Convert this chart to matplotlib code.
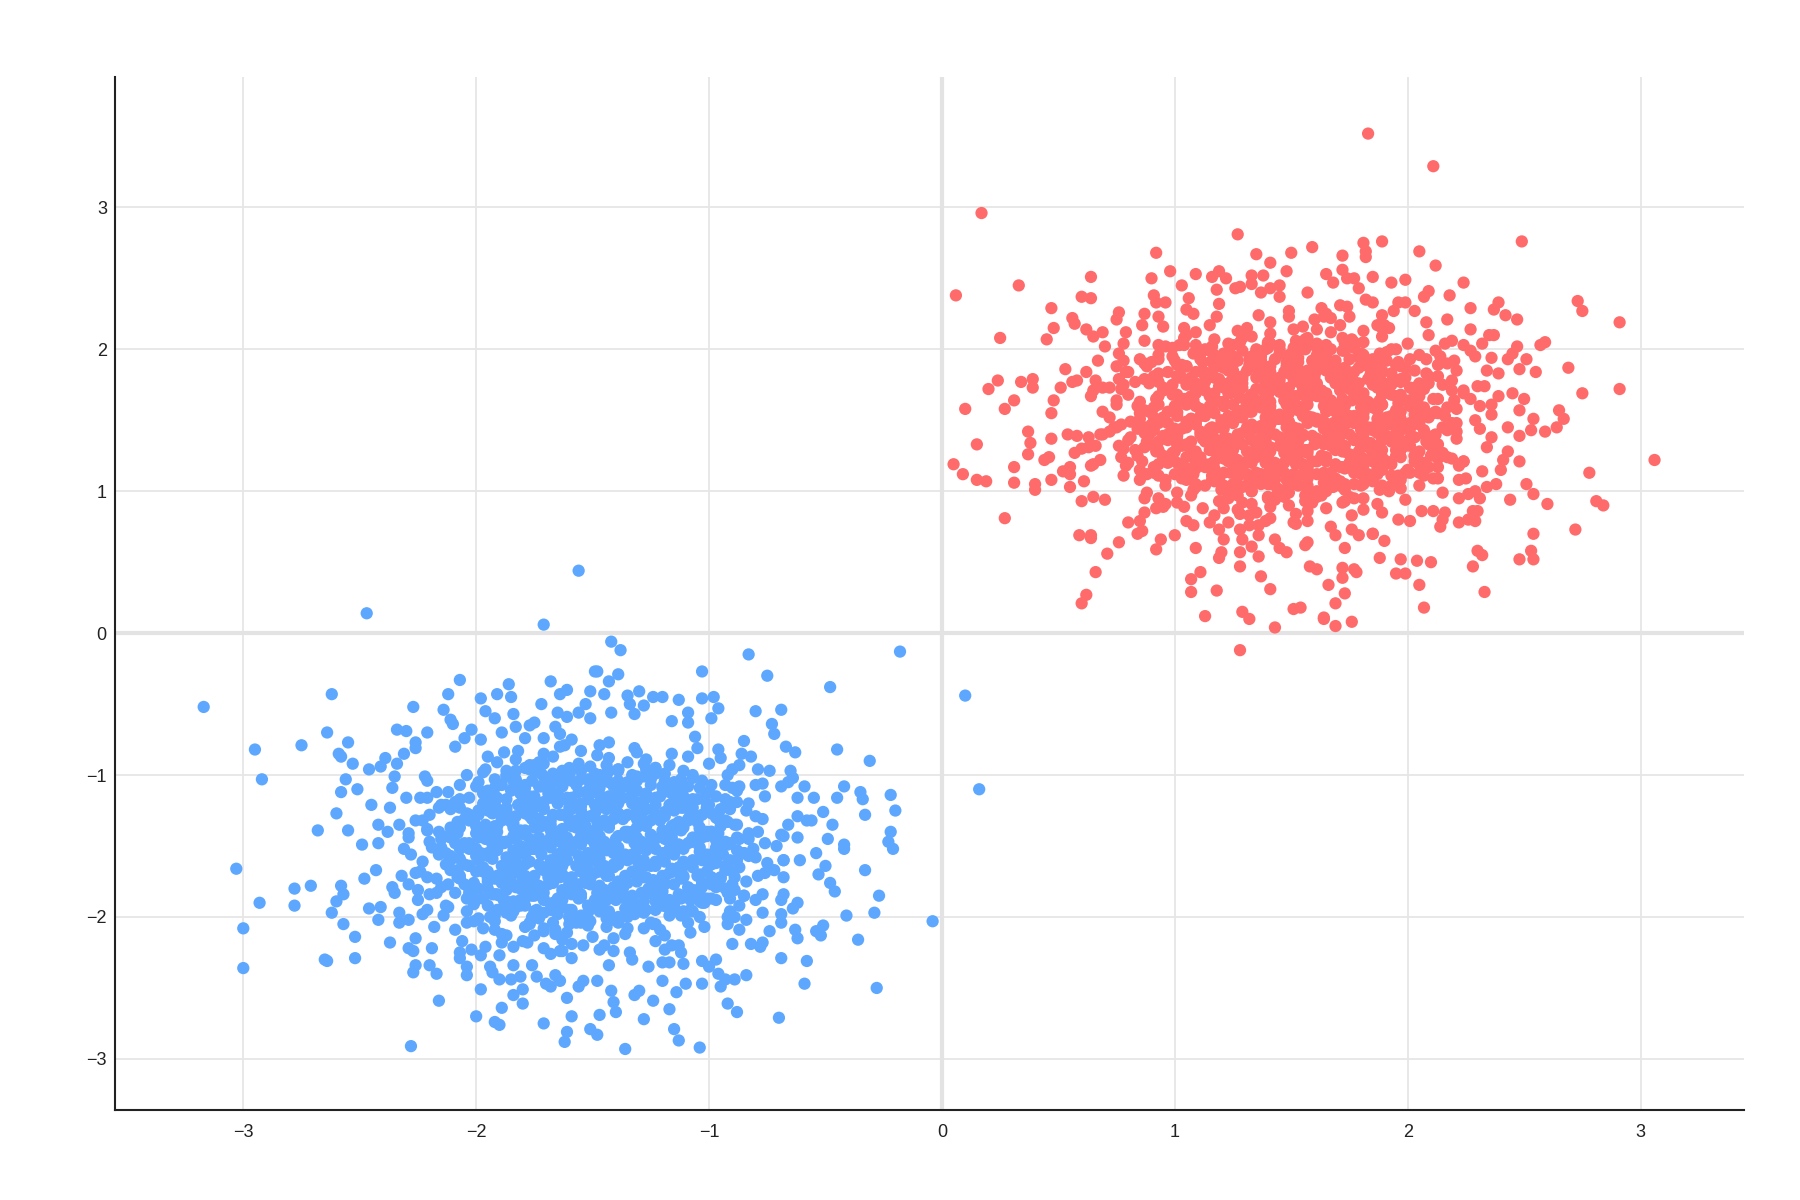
import matplotlib
matplotlib.use("Agg")
import matplotlib.pyplot as plt

# ---------------- data (read / estimated from the reference) ----------------
# Blue cluster: outer points read individually
blue_outer = [
    (-1.56,0.44),(-2.47,0.14),(-1.71,0.06),(-3.17,-0.52),(-2.62,-0.43),(-2.07,-0.33),(-2.27,-0.52),
    (-2.12,-0.43),(-2.14,-0.54),(-1.98,-0.46),(-1.91,-0.43),(-1.86,-0.36),(-1.85,-0.45),(-1.68,-0.34),
    (-1.96,-0.55),(-1.92,-0.60),(-1.84,-0.57),(-1.72,-0.50),(-1.64,-0.43),(-1.61,-0.40),(-1.49,-0.27),
    (-1.51,-0.41),(-2.95,-0.82),(-2.75,-0.79),(-2.64,-0.70),(-2.55,-0.77),(-2.59,-0.85),(-2.58,-0.87),
    (-2.53,-0.92),(-2.92,-1.03),(-2.34,-0.68),(-2.30,-0.69),(-2.21,-0.70),(-2.26,-0.77),(-2.26,-0.81),
    (-2.10,-0.64),(-2.11,-0.61),(-2.09,-0.80),(-2.02,-0.68),(-2.05,-0.74),(-2.39,-0.88),(-2.41,-0.94),
    (-2.46,-0.96),(-2.31,-0.85),(-2.34,-0.92),(-2.35,-1.01),(-2.56,-1.03),(-2.58,-1.12),(-2.51,-1.10),
    (-2.36,-1.09),(-2.30,-1.16),(-2.24,-1.16),(-2.22,-1.01),(-2.21,-1.04),(-2.45,-1.21),(-2.37,-1.23),
    (-2.60,-1.27),(-2.68,-1.39),(-2.55,-1.39),(-2.42,-1.35),(-2.33,-1.35),(-2.29,-1.41),(-2.38,-1.40),
    (-2.26,-1.32),(-2.49,-1.49),(-2.42,-1.48),(-2.17,-1.12),(-2.15,-1.21),(-2.21,-1.38),(-1.97,-1.12),
    (-1.95,-0.87),(-1.98,-0.75),(-1.89,-0.70),(-1.83,-0.66),(-1.82,-0.83),(-1.79,-0.74),(-1.77,-0.65),
    (-1.75,-0.63),(-1.77,-0.93),(-1.73,-0.91),(-1.87,-0.97),(-1.83,-0.97),(-1.97,-0.98),(-1.82,-1.21),
    (-1.67,-0.99),(-1.66,-0.66),(-1.64,-0.71),(-1.62,-0.79),(-1.71,-0.74),(-1.65,-0.56),(-1.61,-0.59),
    (-1.56,-0.56),(-1.53,-0.50),(-1.51,-0.60),
    (-1.42,-0.06),(-1.38,-0.12),(-0.83,-0.15),(-0.18,-0.13),(-0.75,-0.30),(-1.03,-0.27),(-0.48,-0.38),
    (0.10,-0.44),(-0.80,-0.55),(-0.69,-0.54),(-0.73,-0.64),(-0.72,-0.71),(-0.85,-0.76),(-0.67,-0.80),
    (-0.63,-0.84),(-0.45,-0.82),(-0.31,-0.90),(0.16,-1.10),(-0.79,-0.96),(-0.74,-0.97),(-0.65,-0.97),
    (-0.64,-1.02),(-0.66,-1.05),(-0.59,-1.08),(-0.69,-1.08),(-0.42,-1.08),(-0.45,-1.16),(-0.35,-1.12),
    (-0.34,-1.17),(-0.22,-1.14),(-0.20,-1.25),(-0.33,-1.28),(-0.51,-1.26),(-0.55,-1.16),(-0.62,-1.16),
    (-0.62,-1.29),(-0.58,-1.32),(-0.56,-1.32),(-0.47,-1.35),(-0.66,-1.35),(-0.68,-1.43),(-0.62,-1.44),
    (-0.49,-1.45),(-0.22,-1.40),(-0.23,-1.47),(-0.42,-1.49),(-0.86,-0.85),(-0.82,-0.87),(-0.87,-0.93),
    (-0.90,-0.96),(-0.96,-0.82),(-0.95,-0.88),(-0.99,-0.60),(-0.96,-0.53),(-0.98,-0.45),(-1.03,-0.46),
    (-1.05,-0.81),(-1.16,-0.62),(-1.13,-0.47),(-1.09,-0.56),(-1.09,-0.63),(-1.06,-0.73),(-1.48,-0.27),
    (-1.43,-0.34),(-1.39,-0.29),(-1.45,-0.43),(-1.42,-0.56),(-1.32,-0.57),(-1.34,-0.50),(-1.35,-0.44),
    (-1.30,-0.41),(-1.28,-0.51),(-1.24,-0.45),(-1.20,-0.45),(-0.80,-1.07),(-0.77,-1.06),(-0.87,-1.08),
    (-0.83,-1.20),(-0.90,-1.09),
    (-3.03,-1.66),(-2.93,-1.90),(-2.78,-1.80),(-2.78,-1.92),(-2.71,-1.78),(-3.00,-2.08),(-3.00,-2.36),
    (-2.65,-2.30),(-2.64,-2.31),(-2.52,-2.29),(-2.52,-2.14),(-2.57,-2.05),(-2.62,-1.97),(-2.60,-1.89),
    (-2.58,-1.78),(-2.57,-1.84),(-2.48,-1.73),(-2.43,-1.67),(-2.46,-1.94),(-2.41,-1.93),(-2.42,-2.02),
    (-2.37,-2.18),(-2.36,-1.79),(-2.35,-1.83),(-2.33,-1.97),(-2.33,-2.04),(-2.29,-2.02),(-2.32,-1.71),
    (-2.26,-1.69),(-2.29,-1.77),(-2.25,-1.81),(-2.25,-1.88),(-2.21,-1.95),(-2.23,-1.98),(-2.18,-2.07),
    (-2.26,-2.15),(-2.29,-2.22),(-2.27,-2.24),(-2.19,-2.22),(-2.26,-2.34),(-2.27,-2.39),(-2.20,-2.34),
    (-2.17,-2.40),(-2.16,-2.59),(-2.28,-2.91),(-2.17,-1.73),(-2.17,-1.83),(-2.12,-1.93),(-2.14,-1.99),
    (-2.09,-2.09),(-2.06,-2.17),(-2.07,-2.25),(-2.07,-2.29),(-2.04,-2.35),(-2.04,-2.41),(-2.02,-2.23),
    (-1.98,-2.27),(-1.96,-2.21),(-1.98,-2.51),(-2.00,-2.70),(-1.92,-2.74),(-1.90,-2.76),(-1.89,-2.64),
    (-1.94,-2.35),(-1.93,-2.39),(-1.90,-2.44),(-1.85,-2.44),(-1.81,-2.42),(-1.84,-2.55),(-1.80,-2.51),
    (-1.80,-2.61),(-1.90,-2.27),(-1.84,-2.34),(-1.76,-2.34),(-1.74,-2.42),(-1.70,-2.47),(-1.68,-2.49),
    (-1.66,-2.41),(-1.64,-2.45),(-1.61,-2.57),(-1.59,-2.70),(-1.71,-2.75),(-1.61,-2.81),(-1.62,-2.88),
    (-1.51,-2.79),(-1.59,-2.29),(-1.56,-2.49),(-1.54,-2.45),(-1.54,-2.20),(-1.68,-2.26),(-1.63,-2.24),
    (-1.78,-2.18),(-1.71,-2.22),(-1.87,-2.13),(-1.84,-2.21),(-1.71,-2.10),(-1.66,-2.12),(-1.94,-2.00),
    (-1.92,-2.09),(-2.04,-2.04),(-2.01,-2.03),(-1.89,-2.18),
    (-0.04,-2.03),(-0.28,-2.50),(-0.33,-1.67),(-0.27,-1.85),(-0.29,-1.97),(-0.41,-1.99),(-0.36,-2.16),
    (-0.51,-2.06),(-0.52,-2.13),(-0.59,-2.47),(-0.58,-2.31),(-0.69,-2.29),(-0.70,-2.71),(-0.50,-1.64),
    (-0.53,-1.70),(-0.48,-1.76),(-0.46,-1.82),(-0.68,-1.60),(-0.61,-1.60),(-0.62,-1.90),(-0.64,-1.94),
    (-0.68,-1.84),(-0.69,-1.88),(-0.69,-1.98),(-0.69,-2.04),(-0.63,-2.09),(-0.62,-2.15),(-0.74,-2.10),
    (-0.77,-1.97),(-0.80,-1.88),(-0.85,-1.85),(-0.84,-2.02),(-0.87,-2.09),(-0.90,-2.19),(-0.82,-2.19),
    (-0.78,-2.21),(-0.77,-2.18),(-0.97,-2.30),(-0.96,-2.40),(-0.93,-2.44),(-0.95,-2.49),(-0.89,-2.44),
    (-0.84,-2.41),(-0.92,-2.61),(-0.88,-2.67),(-1.03,-2.31),(-1.00,-2.35),(-1.03,-2.47),(-1.04,-2.92),
    (-1.10,-2.47),(-1.14,-2.53),(-1.17,-2.65),(-1.15,-2.79),(-1.13,-2.87),(-1.28,-2.72),(-1.36,-2.93),
    (-1.24,-2.59),(-1.20,-2.45),(-1.30,-2.52),(-1.32,-2.55),(-1.42,-2.52),(-1.41,-2.60),(-1.40,-2.67),
    (-1.47,-2.69),(-1.48,-2.83),(-1.48,-2.45),(-1.43,-2.34),(-1.41,-2.24),(-1.33,-2.30),(-1.26,-2.35),
    (-1.20,-2.32),(-1.17,-2.32),(-1.11,-2.33),(-1.16,-2.20),(-1.13,-2.20),(-1.12,-2.25),(-1.19,-2.23),
    (-0.92,-2.00),(-0.89,-2.00),(-0.92,-2.05),(-1.04,-1.84),(-1.08,-1.95),(-1.02,-1.90),(-0.97,-1.88),
    (-0.94,-1.56),(-0.91,-1.60),(-0.98,-1.61),(-0.83,-1.56),(-0.75,-1.62),(-0.72,-1.67),(-0.68,-1.72),
    (-0.90,-1.77),(-0.85,-1.85),(-0.54,-1.55),(-0.42,-1.52),(-0.21,-1.52),(-0.54,-2.10),
]

# Blue cluster: dense core (estimated, points too overlapped to read singly)
blue_core = [
    (-1.64,-2.24),(-1.59,-2.19),(-1.47,-2.23),(-1.45,-2.20),(-1.34,-2.25),
    (-1.89,-2.12),(-1.80,-2.17),(-1.75,-2.13),(-1.63,-2.16),(-1.61,-2.11),(-1.50,-2.14),(-1.41,-2.15),(-1.36,-2.12),(-1.23,-2.17),(-1.19,-2.13),(-1.08,-2.11),
    (-1.97,-2.08),(-1.92,-2.03),(-1.79,-2.07),(-1.77,-2.05),(-1.66,-2.09),(-1.57,-2.04),(-1.52,-2.06),(-1.39,-2.03),(-1.35,-2.08),(-1.24,-2.05),(-1.21,-2.09),(-1.09,-2.04),(-1.02,-2.07),
    (-2.04,-1.96),(-1.99,-2.01),(-1.87,-1.97),(-1.85,-1.99),(-1.74,-1.95),(-1.65,-1.98),(-1.60,-2.00),(-1.47,-1.96),(-1.43,-2.01),(-1.32,-1.98),(-1.29,-1.95),(-1.17,-1.99),(-1.10,-1.97),(-1.04,-2.00),(-0.91,-1.96),
    (-2.13,-1.92),(-2.04,-1.87),(-2.01,-1.91),(-1.88,-1.89),(-1.83,-1.93),(-1.71,-1.88),(-1.67,-1.90),(-1.56,-1.87),(-1.51,-1.92),(-1.40,-1.88),(-1.35,-1.91),(-1.23,-1.89),(-1.18,-1.93),(-1.08,-1.88),(-1.03,-1.90),(-0.91,-1.87),(-0.87,-1.92),
    (-2.20,-1.84),(-2.15,-1.79),(-2.03,-1.83),(-2.01,-1.81),(-1.90,-1.85),(-1.81,-1.80),(-1.76,-1.82),(-1.63,-1.84),(-1.59,-1.79),(-1.48,-1.83),(-1.45,-1.81),(-1.33,-1.85),(-1.26,-1.80),(-1.20,-1.82),(-1.07,-1.84),(-1.03,-1.79),(-0.92,-1.83),(-0.89,-1.81),(-0.77,-1.84),
    (-2.21,-1.72),(-2.12,-1.77),(-2.07,-1.73),(-1.95,-1.75),(-1.91,-1.71),(-1.80,-1.74),(-1.75,-1.76),(-1.64,-1.72),(-1.56,-1.77),(-1.51,-1.73),(-1.39,-1.75),(-1.36,-1.71),(-1.24,-1.74),(-1.19,-1.76),(-1.11,-1.72),(-0.99,-1.77),(-0.95,-1.73),(-0.84,-1.75),(-0.79,-1.71),
    (-2.24,-1.68),(-2.13,-1.63),(-2.08,-1.67),(-1.97,-1.65),(-1.88,-1.69),(-1.83,-1.64),(-1.72,-1.66),(-1.67,-1.68),(-1.55,-1.63),(-1.52,-1.67),(-1.41,-1.65),(-1.32,-1.69),(-1.28,-1.64),(-1.16,-1.66),(-1.12,-1.68),(-1.00,-1.63),(-0.93,-1.67),(-0.87,-1.65),(-0.76,-1.69),
    (-2.28,-1.56),(-2.23,-1.61),(-2.11,-1.57),(-2.07,-1.59),(-1.98,-1.55),(-1.87,-1.58),(-1.84,-1.60),(-1.72,-1.56),(-1.67,-1.61),(-1.56,-1.57),(-1.53,-1.59),(-1.41,-1.55),(-1.34,-1.58),(-1.28,-1.60),(-1.15,-1.56),(-1.11,-1.61),(-1.00,-1.57),(-0.97,-1.59),(-0.85,-1.55),(-0.80,-1.58),(-0.68,-1.60),
    (-2.31,-1.52),(-2.20,-1.47),(-2.15,-1.51),(-2.04,-1.49),(-2.00,-1.53),(-1.88,-1.48),(-1.81,-1.50),(-1.76,-1.52),(-1.64,-1.47),(-1.60,-1.51),(-1.49,-1.49),(-1.44,-1.53),(-1.32,-1.48),(-1.27,-1.50),(-1.17,-1.52),(-1.08,-1.47),(-1.04,-1.51),(-0.92,-1.49),(-0.88,-1.53),(-0.76,-1.48),(-0.71,-1.50),
    (-2.29,-1.44),(-2.21,-1.39),(-2.12,-1.43),(-2.08,-1.41),(-1.96,-1.45),(-1.91,-1.40),(-1.79,-1.42),(-1.73,-1.44),(-1.68,-1.39),(-1.55,-1.43),(-1.52,-1.41),(-1.40,-1.45),(-1.35,-1.40),(-1.25,-1.42),(-1.16,-1.44),(-1.12,-1.39),(-1.01,-1.43),(-0.96,-1.41),(-0.83,-1.45),(-0.79,-1.40),(-0.69,-1.42),
    (-2.23,-1.32),(-2.11,-1.37),(-2.08,-1.33),(-1.96,-1.35),(-1.89,-1.31),(-1.84,-1.34),(-1.72,-1.36),(-1.68,-1.32),(-1.57,-1.37),(-1.48,-1.33),(-1.43,-1.35),(-1.31,-1.31),(-1.28,-1.34),(-1.16,-1.36),(-1.09,-1.32),(-1.04,-1.37),(-0.92,-1.33),(-0.88,-1.35),(-0.77,-1.31),
    (-2.20,-1.28),(-2.16,-1.23),(-2.04,-1.27),(-1.99,-1.25),(-1.88,-1.29),(-1.80,-1.24),(-1.76,-1.26),(-1.64,-1.28),(-1.60,-1.23),(-1.49,-1.27),(-1.40,-1.25),(-1.36,-1.29),(-1.24,-1.24),(-1.19,-1.26),(-1.08,-1.28),(-1.01,-1.23),(-0.96,-1.27),(-0.84,-1.25),(-0.80,-1.29),
    (-2.21,-1.16),(-2.13,-1.21),(-2.07,-1.17),(-1.95,-1.19),(-1.92,-1.15),(-1.80,-1.18),(-1.73,-1.20),(-1.68,-1.16),(-1.56,-1.21),(-1.52,-1.17),(-1.41,-1.19),(-1.33,-1.15),(-1.28,-1.18),(-1.16,-1.20),(-1.11,-1.16),(-1.00,-1.21),(-0.93,-1.17),(-0.88,-1.19),(-0.76,-1.15),
    (-2.12,-1.12),(-2.07,-1.07),(-1.95,-1.11),(-1.92,-1.09),(-1.81,-1.13),(-1.72,-1.08),(-1.68,-1.10),(-1.56,-1.12),(-1.51,-1.07),(-1.39,-1.11),(-1.33,-1.09),(-1.27,-1.13),(-1.15,-1.08),(-1.12,-1.10),(-1.00,-1.12),(-0.93,-1.07),(-0.88,-1.11),
    (-2.04,-1.00),(-1.99,-1.05),(-1.87,-1.01),(-1.83,-1.03),(-1.72,-0.99),(-1.64,-1.02),(-1.59,-1.04),(-1.47,-1.00),(-1.43,-1.05),(-1.31,-1.01),(-1.25,-1.03),(-1.19,-0.99),(-1.07,-1.02),(-1.03,-1.04),(-0.92,-1.00),
    (-1.96,-0.96),(-1.91,-0.91),(-1.79,-0.95),(-1.75,-0.93),(-1.63,-0.97),(-1.56,-0.92),(-1.51,-0.94),(-1.39,-0.96),(-1.35,-0.91),(-1.23,-0.95),(-1.17,-0.93),(-1.11,-0.97),(-1.00,-0.92),
    (-1.88,-0.84),(-1.83,-0.89),(-1.71,-0.85),(-1.67,-0.87),(-1.55,-0.83),(-1.48,-0.86),(-1.43,-0.88),(-1.31,-0.84),(-1.27,-0.89),(-1.16,-0.85),(-1.09,-0.87),
    (-1.64,-0.80),(-1.59,-0.75),(-1.47,-0.79),(-1.43,-0.77),(-1.32,-0.81),
    (-1.60,-2.00),(-1.55,-2.04),(-1.44,-2.01),(-1.39,-2.03),
    (-1.84,-1.96),(-1.79,-1.92),(-1.68,-1.95),(-1.63,-1.93),(-1.52,-1.97),(-1.47,-1.92),(-1.36,-1.94),(-1.31,-1.96),(-1.20,-1.92),(-1.15,-1.95),
    (-1.92,-1.84),(-1.87,-1.89),(-1.76,-1.85),(-1.71,-1.87),(-1.60,-1.83),(-1.55,-1.86),(-1.44,-1.88),(-1.39,-1.84),(-1.28,-1.89),(-1.23,-1.85),(-1.12,-1.87),(-1.07,-1.83),
    (-1.95,-1.80),(-1.85,-1.75),(-1.79,-1.79),(-1.69,-1.77),(-1.63,-1.81),(-1.53,-1.76),(-1.47,-1.78),(-1.37,-1.80),(-1.31,-1.75),(-1.21,-1.79),(-1.15,-1.77),(-1.05,-1.81),
    (-2.00,-1.68),(-1.95,-1.73),(-1.84,-1.69),(-1.79,-1.71),(-1.68,-1.67),(-1.63,-1.70),(-1.52,-1.72),(-1.47,-1.68),(-1.36,-1.73),(-1.31,-1.69),(-1.20,-1.71),(-1.15,-1.67),(-1.04,-1.70),(-0.99,-1.72),
    (-2.03,-1.64),(-1.93,-1.59),(-1.87,-1.63),(-1.77,-1.61),(-1.71,-1.65),(-1.61,-1.60),(-1.55,-1.62),(-1.45,-1.64),(-1.39,-1.59),(-1.29,-1.63),(-1.23,-1.61),(-1.13,-1.65),(-1.07,-1.60),(-0.97,-1.62),
    (-2.00,-1.52),(-1.95,-1.57),(-1.84,-1.53),(-1.79,-1.55),(-1.68,-1.51),(-1.63,-1.54),(-1.52,-1.56),(-1.47,-1.52),(-1.36,-1.57),(-1.31,-1.53),(-1.20,-1.55),(-1.15,-1.51),(-1.04,-1.54),(-0.99,-1.56),
    (-2.03,-1.48),(-1.93,-1.43),(-1.87,-1.47),(-1.77,-1.45),(-1.71,-1.49),(-1.61,-1.44),(-1.55,-1.46),(-1.45,-1.48),(-1.39,-1.43),(-1.29,-1.47),(-1.23,-1.45),(-1.13,-1.49),(-1.07,-1.44),(-0.97,-1.46),
    (-2.00,-1.36),(-1.95,-1.41),(-1.84,-1.37),(-1.79,-1.39),(-1.68,-1.35),(-1.63,-1.38),(-1.52,-1.40),(-1.47,-1.36),(-1.36,-1.41),(-1.31,-1.37),(-1.20,-1.39),(-1.15,-1.35),(-1.04,-1.38),(-0.99,-1.40),
    (-2.03,-1.32),(-1.93,-1.27),(-1.87,-1.31),(-1.77,-1.29),(-1.71,-1.33),(-1.61,-1.28),(-1.55,-1.30),(-1.45,-1.32),(-1.39,-1.27),(-1.29,-1.31),(-1.23,-1.29),(-1.13,-1.33),(-1.07,-1.28),(-0.97,-1.30),
    (-1.92,-1.20),(-1.87,-1.25),(-1.76,-1.21),(-1.71,-1.23),(-1.60,-1.19),(-1.55,-1.22),(-1.44,-1.24),(-1.39,-1.20),(-1.28,-1.25),(-1.23,-1.21),(-1.12,-1.23),(-1.07,-1.19),
    (-1.95,-1.16),(-1.85,-1.11),(-1.79,-1.15),(-1.69,-1.13),(-1.63,-1.17),(-1.53,-1.12),(-1.47,-1.14),(-1.37,-1.16),(-1.31,-1.11),(-1.21,-1.15),(-1.15,-1.13),(-1.05,-1.17),
    (-1.84,-1.04),(-1.79,-1.09),(-1.68,-1.05),(-1.63,-1.07),(-1.52,-1.03),(-1.47,-1.06),(-1.36,-1.08),(-1.31,-1.04),(-1.20,-1.09),(-1.15,-1.05),
    (-1.60,-1.00),(-1.55,-0.96),(-1.44,-0.99),(-1.39,-0.97),
]

# Blue cluster: inner fill (estimated)
blue_fill = [
    (-1.77,-2.04),(-1.71,-2.08),(-1.60,-2.05),(-1.55,-2.03),(-1.44,-2.07),(-1.39,-2.04),(-1.28,-2.08),(-1.23,-2.05),
    (-1.92,-1.99),(-1.87,-1.96),(-1.76,-2.00),(-1.71,-1.97),(-1.60,-1.95),(-1.55,-1.99),(-1.44,-1.96),(-1.39,-2.00),(-1.28,-1.97),(-1.23,-1.95),(-1.12,-1.99),(-1.07,-1.96),
    (-2.00,-1.88),(-1.95,-1.92),(-1.84,-1.89),(-1.79,-1.87),(-1.68,-1.91),(-1.63,-1.88),(-1.52,-1.92),(-1.47,-1.89),(-1.36,-1.87),(-1.31,-1.91),(-1.20,-1.88),(-1.15,-1.92),(-1.04,-1.89),(-0.99,-1.87),
    (-2.09,-1.83),(-2.03,-1.80),(-1.93,-1.84),(-1.87,-1.81),(-1.77,-1.79),(-1.71,-1.83),(-1.61,-1.80),(-1.55,-1.84),(-1.45,-1.81),(-1.39,-1.79),(-1.29,-1.83),(-1.23,-1.80),(-1.13,-1.84),(-1.07,-1.81),(-0.97,-1.79),(-0.91,-1.83),
    (-2.08,-1.72),(-2.01,-1.76),(-1.92,-1.73),(-1.85,-1.71),(-1.76,-1.75),(-1.69,-1.72),(-1.60,-1.76),(-1.53,-1.73),(-1.44,-1.71),(-1.37,-1.75),(-1.28,-1.72),(-1.21,-1.76),(-1.12,-1.73),(-1.05,-1.71),(-0.96,-1.75),(-0.89,-1.72),
    (-2.11,-1.67),(-2.03,-1.64),(-1.95,-1.68),(-1.87,-1.65),(-1.79,-1.63),(-1.71,-1.67),(-1.63,-1.64),(-1.55,-1.68),(-1.47,-1.65),(-1.39,-1.63),(-1.31,-1.67),(-1.23,-1.64),(-1.15,-1.68),(-1.07,-1.65),(-0.99,-1.63),(-0.91,-1.67),
    (-2.16,-1.56),(-2.11,-1.60),(-2.00,-1.57),(-1.95,-1.55),(-1.84,-1.59),(-1.79,-1.56),(-1.68,-1.60),(-1.63,-1.57),(-1.52,-1.55),(-1.47,-1.59),(-1.36,-1.56),(-1.31,-1.60),(-1.20,-1.57),(-1.15,-1.55),(-1.04,-1.59),(-0.99,-1.56),(-0.88,-1.60),(-0.83,-1.57),
    (-2.19,-1.51),(-2.09,-1.48),(-2.03,-1.52),(-1.93,-1.49),(-1.87,-1.47),(-1.77,-1.51),(-1.71,-1.48),(-1.61,-1.52),(-1.55,-1.49),(-1.45,-1.47),(-1.39,-1.51),(-1.29,-1.48),(-1.23,-1.52),(-1.13,-1.49),(-1.07,-1.47),(-0.97,-1.51),(-0.91,-1.48),(-0.81,-1.52),
    (-2.16,-1.40),(-2.11,-1.44),(-2.00,-1.41),(-1.95,-1.39),(-1.84,-1.43),(-1.79,-1.40),(-1.68,-1.44),(-1.63,-1.41),(-1.52,-1.39),(-1.47,-1.43),(-1.36,-1.40),(-1.31,-1.44),(-1.20,-1.41),(-1.15,-1.39),(-1.04,-1.43),(-0.99,-1.40),(-0.88,-1.44),(-0.83,-1.41),
    (-2.08,-1.35),(-2.01,-1.32),(-1.92,-1.36),(-1.85,-1.33),(-1.76,-1.31),(-1.69,-1.35),(-1.60,-1.32),(-1.53,-1.36),(-1.44,-1.33),(-1.37,-1.31),(-1.28,-1.35),(-1.21,-1.32),(-1.12,-1.36),(-1.05,-1.33),(-0.96,-1.31),(-0.89,-1.35),
    (-2.11,-1.24),(-2.03,-1.28),(-1.95,-1.25),(-1.87,-1.23),(-1.79,-1.27),(-1.71,-1.24),(-1.63,-1.28),(-1.55,-1.25),(-1.47,-1.23),(-1.39,-1.27),(-1.31,-1.24),(-1.23,-1.28),(-1.15,-1.25),(-1.07,-1.23),(-0.99,-1.27),(-0.91,-1.24),
    (-2.09,-1.19),(-2.03,-1.16),(-1.93,-1.20),(-1.87,-1.17),(-1.77,-1.15),(-1.71,-1.19),(-1.61,-1.16),(-1.55,-1.20),(-1.45,-1.17),(-1.39,-1.15),(-1.29,-1.19),(-1.23,-1.16),(-1.13,-1.20),(-1.07,-1.17),(-0.97,-1.15),(-0.91,-1.19),
    (-2.00,-1.08),(-1.95,-1.12),(-1.84,-1.09),(-1.79,-1.07),(-1.68,-1.11),(-1.63,-1.08),(-1.52,-1.12),(-1.47,-1.09),(-1.36,-1.07),(-1.31,-1.11),(-1.20,-1.08),(-1.15,-1.12),(-1.04,-1.09),(-0.99,-1.07),
    (-1.92,-1.03),(-1.87,-1.00),(-1.76,-1.04),(-1.71,-1.01),(-1.60,-0.99),(-1.55,-1.03),(-1.44,-1.00),(-1.39,-1.04),(-1.28,-1.01),(-1.23,-0.99),(-1.12,-1.03),(-1.07,-1.00),
    (-1.77,-0.96),(-1.71,-0.92),(-1.60,-0.95),(-1.55,-0.97),(-1.44,-0.93),(-1.39,-0.96),(-1.28,-0.92),(-1.23,-0.95),
]

# Blue cluster: centre fill (estimated)
blue_centre = [
    (-1.73,-2.01),(-1.67,-2.04),(-1.57,-2.00),(-1.51,-2.03),(-1.41,-2.02),(-1.35,-2.00),(-1.25,-2.04),
    (-1.91,-1.95),(-1.81,-1.92),(-1.75,-1.96),(-1.65,-1.93),(-1.59,-1.95),(-1.49,-1.92),(-1.43,-1.96),(-1.33,-1.93),(-1.27,-1.95),(-1.17,-1.92),(-1.11,-1.96),
    (-1.97,-1.87),(-1.91,-1.84),(-1.81,-1.88),(-1.75,-1.85),(-1.65,-1.87),(-1.59,-1.84),(-1.49,-1.88),(-1.43,-1.85),(-1.33,-1.87),(-1.27,-1.84),(-1.17,-1.88),(-1.11,-1.85),(-1.01,-1.87),
    (-2.05,-1.77),(-1.99,-1.80),(-1.89,-1.76),(-1.83,-1.79),(-1.73,-1.78),(-1.67,-1.76),(-1.57,-1.80),(-1.51,-1.77),(-1.41,-1.79),(-1.35,-1.76),(-1.25,-1.80),(-1.19,-1.77),(-1.09,-1.79),(-1.03,-1.76),(-0.93,-1.80),
    (-2.07,-1.71),(-1.97,-1.68),(-1.91,-1.72),(-1.81,-1.69),(-1.75,-1.71),(-1.65,-1.68),(-1.59,-1.72),(-1.49,-1.69),(-1.43,-1.71),(-1.33,-1.68),(-1.27,-1.72),(-1.17,-1.69),(-1.11,-1.71),(-1.01,-1.68),(-0.95,-1.72),
    (-2.05,-1.63),(-1.99,-1.60),(-1.89,-1.64),(-1.83,-1.61),(-1.73,-1.63),(-1.67,-1.60),(-1.57,-1.64),(-1.51,-1.61),(-1.41,-1.63),(-1.35,-1.60),(-1.25,-1.64),(-1.19,-1.61),(-1.09,-1.63),(-1.03,-1.60),(-0.93,-1.64),
    (-2.13,-1.55),(-2.07,-1.52),(-1.97,-1.56),(-1.91,-1.53),(-1.81,-1.55),(-1.75,-1.52),(-1.65,-1.56),(-1.59,-1.53),(-1.49,-1.55),(-1.43,-1.52),(-1.33,-1.56),(-1.27,-1.53),(-1.17,-1.55),(-1.11,-1.52),(-1.01,-1.56),(-0.95,-1.53),(-0.85,-1.55),
    (-2.15,-1.45),(-2.05,-1.48),(-1.99,-1.44),(-1.89,-1.47),(-1.83,-1.45),(-1.73,-1.48),(-1.67,-1.44),(-1.57,-1.47),(-1.51,-1.45),(-1.41,-1.48),(-1.35,-1.44),(-1.25,-1.47),(-1.19,-1.45),(-1.09,-1.48),(-1.03,-1.44),(-0.93,-1.47),(-0.87,-1.45),
    (-2.07,-1.37),(-1.97,-1.40),(-1.91,-1.36),(-1.81,-1.39),(-1.75,-1.37),(-1.65,-1.40),(-1.59,-1.36),(-1.49,-1.39),(-1.43,-1.37),(-1.33,-1.40),(-1.27,-1.36),(-1.17,-1.39),(-1.11,-1.37),(-1.01,-1.40),(-0.95,-1.36),
    (-2.05,-1.31),(-1.99,-1.28),(-1.89,-1.32),(-1.83,-1.29),(-1.73,-1.31),(-1.67,-1.28),(-1.57,-1.32),(-1.51,-1.29),(-1.41,-1.31),(-1.35,-1.28),(-1.25,-1.32),(-1.19,-1.29),(-1.09,-1.31),(-1.03,-1.28),(-0.93,-1.32),
    (-2.07,-1.23),(-1.97,-1.20),(-1.91,-1.24),(-1.81,-1.21),(-1.75,-1.23),(-1.65,-1.20),(-1.59,-1.24),(-1.49,-1.21),(-1.43,-1.23),(-1.33,-1.20),(-1.27,-1.24),(-1.17,-1.21),(-1.11,-1.23),(-1.01,-1.20),(-0.95,-1.24),
    (-1.97,-1.13),(-1.91,-1.16),(-1.81,-1.12),(-1.75,-1.15),(-1.65,-1.13),(-1.59,-1.16),(-1.49,-1.12),(-1.43,-1.15),(-1.33,-1.13),(-1.27,-1.16),(-1.17,-1.12),(-1.11,-1.15),(-1.01,-1.13),
    (-1.89,-1.07),(-1.83,-1.04),(-1.73,-1.08),(-1.67,-1.05),(-1.57,-1.07),(-1.51,-1.04),(-1.41,-1.08),(-1.35,-1.05),(-1.25,-1.07),(-1.19,-1.04),(-1.09,-1.08),
    (-1.75,-0.97),(-1.65,-1.00),(-1.59,-0.96),(-1.49,-0.99),(-1.43,-0.97),(-1.33,-1.00),(-1.27,-0.96),
]

# Red cluster: outer points read individually
red_outer = [
    (0.17,2.96),(0.06,2.38),(0.33,2.45),(0.25,2.08),(0.64,2.51),(0.92,2.68),(1.27,2.81),(0.47,2.29),
    (0.48,2.15),(0.45,2.07),(0.56,2.22),(0.57,2.18),(0.60,2.37),(0.64,2.36),(0.62,2.14),(0.65,2.09),
    (0.69,2.12),(0.70,2.02),(0.67,1.92),(0.75,2.21),(0.76,2.26),(0.79,2.12),(0.78,2.04),(0.76,1.97),
    (0.87,2.25),(0.86,2.17),(0.87,2.06),(0.90,2.50),(0.91,2.38),(0.92,2.33),(0.93,2.23),(0.95,2.16),
    (0.96,2.33),(0.98,2.55),(1.03,2.45),(1.09,2.53),(1.06,2.36),(1.05,2.28),(1.08,2.25),(1.16,2.51),
    (1.19,2.55),(1.22,2.50),(1.35,2.67),(1.41,2.61),(1.50,2.68),(1.48,2.55),(1.33,2.52),(1.38,2.52),
    (1.33,2.46),(1.37,2.40),(1.41,2.43),(1.45,2.45),(1.45,2.37),(1.49,2.27),(0.53,1.86),(0.51,1.73),
    (0.62,1.84),(0.56,1.77),(0.58,1.78),(0.24,1.78),(0.20,1.72),(0.34,1.77),(0.39,1.79),(0.39,1.73),
    (0.31,1.64),(0.27,1.58),(0.10,1.58),(0.48,1.64),(0.47,1.55),(0.66,1.78),(0.65,1.71),(0.64,1.67),
    (0.75,1.88),(0.78,1.92),(0.79,1.84),(0.75,1.64),(0.85,1.93),(0.87,1.90),(0.90,1.91),(0.93,2.03),
    (0.96,2.02),(0.99,1.95),(1.18,2.42),(1.19,2.32),(1.18,2.23),(1.26,2.43),(1.28,2.44),(1.03,1.89),
    (1.02,1.80),(1.04,2.15),(1.05,2.10),(1.02,2.03),(1.04,2.03),(1.10,1.97),(1.16,2.02),(1.21,1.95),
    (0.69,1.73),(0.72,1.73),(0.76,1.79),(0.78,1.75),
    (1.83,3.52),(2.11,3.29),(2.49,2.76),(2.73,2.34),(2.75,2.27),(2.91,2.19),(2.91,1.72),(2.75,1.69),
    (2.69,1.87),(2.65,1.57),(2.57,2.03),(2.59,2.05),(2.55,1.84),(2.51,1.93),(2.47,2.02),(2.43,1.93),
    (2.45,1.97),(2.48,1.86),(2.47,2.21),(2.42,2.24),(2.37,2.28),(2.39,2.33),(2.27,2.29),(2.27,2.14),
    (2.18,2.38),(2.24,2.47),(2.17,2.21),(2.12,2.59),(2.05,2.69),(2.07,2.37),(2.09,2.41),(2.08,2.19),
    (2.09,2.10),(2.03,2.27),(1.99,2.49),(1.89,2.76),(1.81,2.75),(1.82,2.69),(1.82,2.65),(1.85,2.51),
    (1.93,2.47),(1.72,2.66),(1.59,2.72),(1.57,2.40),(1.65,2.53),(1.68,2.47),(1.72,2.56),(1.74,2.50),
    (1.77,2.50),(1.79,2.43),(1.82,2.35),(1.85,2.33),(1.71,2.31),(1.74,2.30),(1.63,2.29),(1.89,2.24),
    (2.36,1.94),(2.39,1.83),(2.34,1.85),(2.19,1.78),(2.39,1.67),(2.45,1.69),(2.50,1.65),(2.48,1.57),
    (1.64,2.23),(1.67,2.22),(1.75,2.23),(1.87,2.17),(1.90,2.17),(1.94,2.27),(1.96,2.33),(1.99,2.33),
    (1.92,2.15),(1.61,2.14),(2.35,2.10),(2.37,2.10),(2.32,2.04),(2.30,1.74),(2.33,1.74),(2.36,1.61),
    (2.36,1.54),(2.54,1.51),(2.67,1.51),(2.24,1.71),(2.27,1.65),(2.20,1.64),(2.12,1.99),(2.16,2.04),
    (2.19,2.06),(2.24,2.03),(2.27,1.99),(2.29,1.95),(2.14,1.95),(2.17,1.90),(2.20,1.92),
    (0.15,1.33),(0.05,1.19),(0.09,1.12),(0.15,1.08),(0.19,1.07),(0.27,0.81),(0.31,1.17),(0.31,1.06),
    (0.37,1.26),(0.37,1.42),(0.38,1.34),(0.40,1.05),(0.40,1.01),(0.47,1.37),(0.44,1.22),(0.46,1.24),
    (0.47,1.08),(0.54,1.40),(0.58,1.39),(0.63,1.38),(0.52,1.14),(0.55,1.17),(0.55,1.12),(0.55,1.03),
    (0.61,1.07),(0.60,0.93),(0.65,0.96),(0.70,0.94),(0.59,0.69),(0.64,0.69),(0.64,0.67),(0.71,0.56),
    (0.76,0.64),(0.66,0.43),(0.62,0.27),(0.60,0.21),(0.80,0.78),(0.85,0.79),(0.86,0.72),(0.84,0.70),
    (0.92,0.59),(0.94,0.66),(1.00,0.69),(0.88,0.99),(0.87,0.95),(0.93,0.95),(0.96,0.91),(0.95,0.89),
    (0.92,0.88),(0.87,0.85),(0.88,1.12),(0.78,1.11),(0.79,1.18),(0.76,1.32),(0.81,1.38),(0.78,1.30),
    (1.09,0.60),(1.11,0.43),(1.07,0.38),(1.07,0.29),(1.13,0.12),(1.18,0.30),(1.20,0.57),(1.19,0.53),
    (1.28,0.57),(1.28,0.47),(1.29,0.15),(1.32,0.10),(1.28,-0.12),(1.33,0.61),(1.36,0.54),(1.37,0.40),
    (1.41,0.31),(1.43,0.04),(1.51,0.17),(0.84,1.25),(0.86,1.21),(0.88,1.35),(0.90,1.47),(0.65,1.19),
    (0.68,1.22),(0.64,1.18),(0.57,1.27),(0.60,1.30),(0.63,1.31),(0.66,1.32),(0.68,1.40),(0.72,1.42),
    (0.74,1.45),(0.96,1.08),(0.93,1.11),(1.05,0.79),(1.08,0.76),(1.04,0.89),(1.15,0.78),(1.19,0.73),
    (1.21,0.66),(1.23,0.78),(1.28,0.73),(1.29,0.66),(1.32,0.76),(1.36,0.69),(1.39,0.79),(1.43,0.66),
    (1.45,0.60),(1.48,0.57),(1.51,0.78),(1.49,0.90),(1.21,0.88),(1.28,0.84),(1.32,0.83),
    (3.06,1.22),(2.78,1.13),(2.81,0.93),(2.84,0.90),(2.60,0.91),(2.72,0.73),(2.54,0.70),(2.53,0.58),
    (2.54,0.52),(2.48,0.52),(2.51,1.05),(2.54,0.98),(2.44,0.94),(2.38,1.05),(2.34,1.03),(2.32,1.14),
    (2.40,1.15),(2.41,1.22),(2.43,1.28),(2.48,1.21),(2.34,1.31),(2.36,1.38),(2.43,1.45),(2.48,1.39),
    (2.53,1.43),(2.30,0.58),(2.32,0.55),(2.28,0.47),(2.33,0.29),(2.10,0.50),(2.04,0.51),(2.07,0.18),
    (2.05,0.34),(1.97,0.52),(1.95,0.42),(1.99,0.42),(1.88,0.53),(1.90,0.65),(1.85,0.70),(1.78,0.43),
    (1.77,0.45),(1.72,0.46),(1.72,0.39),(1.73,0.28),(1.69,0.21),(1.66,0.34),(1.76,0.08),(1.69,0.05),
    (1.64,0.10),(1.64,0.11),(1.58,0.47),(1.61,0.45),(1.73,0.60),(1.69,0.69),(1.54,0.18),(1.56,0.62),
    (1.57,0.64),(2.14,0.75),(2.15,0.80),(2.16,0.85),(2.22,0.78),(2.26,0.80),(2.29,0.79),(2.30,0.86),
    (2.28,0.86),(2.22,0.95),(2.26,0.98),(2.29,1.00),(2.31,0.95),(2.15,0.99),(2.06,0.86),(2.11,0.86),
    (2.59,1.42),(2.64,1.45),(1.96,0.80),(2.01,0.79),(2.22,1.08),(2.25,1.09),(2.05,1.19),(2.03,1.25),
    (2.10,1.25),(2.13,1.23),(2.17,1.24),(2.22,1.18),(2.24,1.21),(2.07,1.11),(2.13,1.09),(1.79,0.69),
    (1.76,0.73),(1.85,0.70),
]

# Red cluster: dense core (estimated)
red_core = [
    (1.36,0.76),(1.41,0.81),(1.52,0.77),(1.57,0.79),(1.67,0.75),
    (1.12,0.88),(1.17,0.83),(1.27,0.87),(1.35,0.85),(1.41,0.89),(1.52,0.84),(1.57,0.86),(1.65,0.88),(1.76,0.83),(1.81,0.87),(1.89,0.85),
    (1.01,0.92),(1.07,0.97),(1.19,0.93),(1.23,0.95),(1.33,0.91),(1.43,0.94),(1.47,0.96),(1.59,0.92),(1.63,0.97),(1.73,0.93),(1.81,0.95),(1.87,0.91),(1.99,0.94),
    (0.96,1.04),(1.01,0.99),(1.09,1.03),(1.20,1.01),(1.25,1.05),(1.33,1.00),(1.44,1.02),(1.49,1.04),(1.57,0.99),(1.68,1.03),(1.73,1.01),(1.81,1.05),(1.92,1.00),(1.97,1.02),(2.05,1.04),
    (0.85,1.08),(0.91,1.13),(1.03,1.09),(1.07,1.11),(1.17,1.07),(1.27,1.10),(1.31,1.12),(1.43,1.08),(1.47,1.13),(1.57,1.09),(1.65,1.11),(1.71,1.07),(1.83,1.10),(1.87,1.12),(1.97,1.08),(2.05,1.13),(2.11,1.09),
    (0.80,1.20),(0.85,1.15),(0.93,1.19),(1.04,1.17),(1.09,1.21),(1.17,1.16),(1.28,1.18),(1.33,1.20),(1.41,1.15),(1.52,1.19),(1.57,1.17),(1.65,1.21),(1.76,1.16),(1.81,1.18),(1.89,1.20),(2.00,1.15),(2.05,1.19),(2.13,1.17),(2.24,1.21),
    (0.77,1.24),(0.83,1.29),(0.95,1.25),(0.99,1.27),(1.09,1.23),(1.19,1.26),(1.23,1.28),(1.35,1.24),(1.39,1.29),(1.49,1.25),(1.57,1.27),(1.63,1.23),(1.75,1.26),(1.79,1.28),(1.89,1.24),(1.97,1.29),(2.03,1.25),(2.15,1.27),(2.19,1.23),
    (0.80,1.36),(0.87,1.31),(0.93,1.35),(1.01,1.33),(1.12,1.37),(1.17,1.32),(1.25,1.34),(1.36,1.36),(1.41,1.31),(1.49,1.35),(1.60,1.33),(1.65,1.37),(1.73,1.32),(1.84,1.34),(1.89,1.36),(1.97,1.31),(2.08,1.35),(2.13,1.33),(2.21,1.37),
    (0.69,1.40),(0.75,1.45),(0.87,1.41),(0.91,1.43),(1.01,1.39),(1.11,1.42),(1.15,1.44),(1.27,1.40),(1.31,1.45),(1.41,1.41),(1.49,1.43),(1.55,1.39),(1.67,1.42),(1.71,1.44),(1.81,1.40),(1.89,1.45),(1.95,1.41),(2.07,1.43),(2.11,1.39),(2.21,1.42),(2.31,1.44),
    (0.72,1.52),(0.77,1.47),(0.85,1.51),(0.96,1.49),(1.01,1.53),(1.09,1.48),(1.20,1.50),(1.25,1.52),(1.33,1.47),(1.44,1.51),(1.49,1.49),(1.57,1.53),(1.68,1.48),(1.73,1.50),(1.81,1.52),(1.92,1.47),(1.97,1.51),(2.05,1.49),(2.16,1.53),(2.21,1.48),(2.29,1.50),
    (0.69,1.56),(0.75,1.61),(0.87,1.57),(0.91,1.59),(1.01,1.55),(1.11,1.58),(1.15,1.60),(1.27,1.56),(1.31,1.61),(1.41,1.57),(1.49,1.59),(1.55,1.55),(1.67,1.58),(1.71,1.60),(1.81,1.56),(1.89,1.61),(1.95,1.57),(2.07,1.59),(2.11,1.55),(2.21,1.58),(2.31,1.60),
    (0.80,1.68),(0.85,1.63),(0.93,1.67),(1.04,1.65),(1.09,1.69),(1.17,1.64),(1.28,1.66),(1.33,1.68),(1.41,1.63),(1.52,1.67),(1.57,1.65),(1.65,1.69),(1.76,1.64),(1.81,1.66),(1.89,1.68),(2.00,1.63),(2.05,1.67),(2.13,1.65),(2.24,1.69),
    (0.77,1.72),(0.83,1.77),(0.95,1.73),(0.99,1.75),(1.09,1.71),(1.19,1.74),(1.23,1.76),(1.35,1.72),(1.39,1.77),(1.49,1.73),(1.57,1.75),(1.63,1.71),(1.75,1.74),(1.79,1.76),(1.89,1.72),(1.97,1.77),(2.03,1.73),(2.15,1.75),(2.19,1.71),
    (0.80,1.84),(0.87,1.79),(0.93,1.83),(1.01,1.81),(1.12,1.85),(1.17,1.80),(1.25,1.82),(1.36,1.84),(1.41,1.79),(1.49,1.83),(1.60,1.81),(1.65,1.85),(1.73,1.80),(1.84,1.82),(1.89,1.84),(1.97,1.79),(2.08,1.83),(2.13,1.81),(2.21,1.85),
    (0.88,1.88),(0.93,1.93),(1.01,1.89),(1.12,1.91),(1.17,1.87),(1.25,1.90),(1.36,1.92),(1.41,1.88),(1.49,1.93),(1.60,1.89),(1.65,1.91),(1.73,1.87),(1.84,1.90),(1.89,1.92),(1.97,1.88),(2.08,1.93),(2.13,1.89),
    (0.93,1.96),(0.99,2.01),(1.11,1.97),(1.15,1.99),(1.25,1.95),(1.35,1.98),(1.39,2.00),(1.51,1.96),(1.55,2.01),(1.65,1.97),(1.73,1.99),(1.79,1.95),(1.91,1.98),(1.95,2.00),(2.05,1.96),
    (1.04,2.08),(1.09,2.03),(1.17,2.07),(1.28,2.05),(1.33,2.09),(1.41,2.04),(1.52,2.06),(1.57,2.08),(1.65,2.03),(1.76,2.07),(1.81,2.05),(1.89,2.09),(2.00,2.04),
    (1.09,2.12),(1.15,2.17),(1.27,2.13),(1.31,2.15),(1.41,2.11),(1.51,2.14),(1.55,2.16),(1.67,2.12),(1.71,2.17),(1.81,2.13),(1.89,2.15),
    (1.36,2.24),(1.41,2.19),(1.49,2.23),(1.60,2.21),(1.65,2.25),
    (1.40,0.96),(1.45,1.00),(1.56,0.97),(1.61,0.99),
    (1.16,1.08),(1.21,1.04),(1.32,1.07),(1.37,1.05),(1.48,1.09),(1.53,1.04),(1.64,1.06),(1.69,1.08),(1.80,1.04),(1.85,1.07),
    (1.08,1.12),(1.13,1.17),(1.24,1.13),(1.29,1.15),(1.40,1.11),(1.45,1.14),(1.56,1.16),(1.61,1.12),(1.72,1.17),(1.77,1.13),(1.88,1.15),(1.93,1.11),
    (1.05,1.24),(1.15,1.19),(1.21,1.23),(1.31,1.21),(1.37,1.25),(1.47,1.20),(1.53,1.22),(1.63,1.24),(1.69,1.19),(1.79,1.23),(1.85,1.21),(1.95,1.25),
    (1.00,1.28),(1.05,1.33),(1.16,1.29),(1.21,1.31),(1.32,1.27),(1.37,1.30),(1.48,1.32),(1.53,1.28),(1.64,1.33),(1.69,1.29),(1.80,1.31),(1.85,1.27),(1.96,1.30),(2.01,1.32),
    (0.97,1.40),(1.07,1.35),(1.13,1.39),(1.23,1.37),(1.29,1.41),(1.39,1.36),(1.45,1.38),(1.55,1.40),(1.61,1.35),(1.71,1.39),(1.77,1.37),(1.87,1.41),(1.93,1.36),(2.03,1.38),
    (1.00,1.44),(1.05,1.49),(1.16,1.45),(1.21,1.47),(1.32,1.43),(1.37,1.46),(1.48,1.48),(1.53,1.44),(1.64,1.49),(1.69,1.45),(1.80,1.47),(1.85,1.43),(1.96,1.46),(2.01,1.48),
    (0.97,1.56),(1.07,1.51),(1.13,1.55),(1.23,1.53),(1.29,1.57),(1.39,1.52),(1.45,1.54),(1.55,1.56),(1.61,1.51),(1.71,1.55),(1.77,1.53),(1.87,1.57),(1.93,1.52),(2.03,1.54),
    (1.00,1.60),(1.05,1.65),(1.16,1.61),(1.21,1.63),(1.32,1.59),(1.37,1.62),(1.48,1.64),(1.53,1.60),(1.64,1.65),(1.69,1.61),(1.80,1.63),(1.85,1.59),(1.96,1.62),(2.01,1.64),
    (0.97,1.72),(1.07,1.67),(1.13,1.71),(1.23,1.69),(1.29,1.73),(1.39,1.68),(1.45,1.70),(1.55,1.72),(1.61,1.67),(1.71,1.71),(1.77,1.69),(1.87,1.73),(1.93,1.68),(2.03,1.70),
    (1.08,1.76),(1.13,1.81),(1.24,1.77),(1.29,1.79),(1.40,1.75),(1.45,1.78),(1.56,1.80),(1.61,1.76),(1.72,1.81),(1.77,1.77),(1.88,1.79),(1.93,1.75),
    (1.05,1.88),(1.15,1.83),(1.21,1.87),(1.31,1.85),(1.37,1.89),(1.47,1.84),(1.53,1.86),(1.63,1.88),(1.69,1.83),(1.79,1.87),(1.85,1.85),(1.95,1.89),
    (1.16,1.92),(1.21,1.97),(1.32,1.93),(1.37,1.95),(1.48,1.91),(1.53,1.94),(1.64,1.96),(1.69,1.92),(1.80,1.97),(1.85,1.93),
    (1.40,2.04),(1.45,2.00),(1.56,2.03),(1.61,2.01),
]

# Red cluster: inner fill (estimated)
red_fill = [
    (1.23,0.96),(1.29,0.92),(1.40,0.95),(1.45,0.97),(1.56,0.93),(1.61,0.96),(1.72,0.92),(1.77,0.95),
    (1.08,1.01),(1.13,1.04),(1.24,1.00),(1.29,1.03),(1.40,1.05),(1.45,1.01),(1.56,1.04),(1.61,1.00),(1.72,1.03),(1.77,1.05),(1.88,1.01),(1.93,1.04),
    (1.00,1.12),(1.05,1.08),(1.16,1.11),(1.21,1.13),(1.32,1.09),(1.37,1.12),(1.48,1.08),(1.53,1.11),(1.64,1.13),(1.69,1.09),(1.80,1.12),(1.85,1.08),(1.96,1.11),(2.01,1.13),
    (0.91,1.17),(0.97,1.20),(1.07,1.16),(1.13,1.19),(1.23,1.21),(1.29,1.17),(1.39,1.20),(1.45,1.16),(1.55,1.19),(1.61,1.21),(1.71,1.17),(1.77,1.20),(1.87,1.16),(1.93,1.19),(2.03,1.21),(2.09,1.17),
    (0.92,1.28),(0.99,1.24),(1.08,1.27),(1.15,1.29),(1.24,1.25),(1.31,1.28),(1.40,1.24),(1.47,1.27),(1.56,1.29),(1.63,1.25),(1.72,1.28),(1.79,1.24),(1.88,1.27),(1.95,1.29),(2.04,1.25),(2.11,1.28),
    (0.89,1.33),(0.97,1.36),(1.05,1.32),(1.13,1.35),(1.21,1.37),(1.29,1.33),(1.37,1.36),(1.45,1.32),(1.53,1.35),(1.61,1.37),(1.69,1.33),(1.77,1.36),(1.85,1.32),(1.93,1.35),(2.01,1.37),(2.09,1.33),
    (0.84,1.44),(0.89,1.40),(1.00,1.43),(1.05,1.45),(1.16,1.41),(1.21,1.44),(1.32,1.40),(1.37,1.43),(1.48,1.45),(1.53,1.41),(1.64,1.44),(1.69,1.40),(1.80,1.43),(1.85,1.45),(1.96,1.41),(2.01,1.44),(2.12,1.40),(2.17,1.43),
    (0.81,1.49),(0.91,1.52),(0.97,1.48),(1.07,1.51),(1.13,1.53),(1.23,1.49),(1.29,1.52),(1.39,1.48),(1.45,1.51),(1.55,1.53),(1.61,1.49),(1.71,1.52),(1.77,1.48),(1.87,1.51),(1.93,1.53),(2.03,1.49),(2.09,1.52),(2.19,1.48),
    (0.84,1.60),(0.89,1.56),(1.00,1.59),(1.05,1.61),(1.16,1.57),(1.21,1.60),(1.32,1.56),(1.37,1.59),(1.48,1.61),(1.53,1.57),(1.64,1.60),(1.69,1.56),(1.80,1.59),(1.85,1.61),(1.96,1.57),(2.01,1.60),(2.12,1.56),(2.17,1.59),
    (0.92,1.65),(0.99,1.68),(1.08,1.64),(1.15,1.67),(1.24,1.69),(1.31,1.65),(1.40,1.68),(1.47,1.64),(1.56,1.67),(1.63,1.69),(1.72,1.65),(1.79,1.68),(1.88,1.64),(1.95,1.67),(2.04,1.69),(2.11,1.65),
    (0.89,1.76),(0.97,1.72),(1.05,1.75),(1.13,1.77),(1.21,1.73),(1.29,1.76),(1.37,1.72),(1.45,1.75),(1.53,1.77),(1.61,1.73),(1.69,1.76),(1.77,1.72),(1.85,1.75),(1.93,1.77),(2.01,1.73),(2.09,1.76),
    (0.91,1.81),(0.97,1.84),(1.07,1.80),(1.13,1.83),(1.23,1.85),(1.29,1.81),(1.39,1.84),(1.45,1.80),(1.55,1.83),(1.61,1.85),(1.71,1.81),(1.77,1.84),(1.87,1.80),(1.93,1.83),(2.03,1.85),(2.09,1.81),
    (1.00,1.92),(1.05,1.88),(1.16,1.91),(1.21,1.93),(1.32,1.89),(1.37,1.92),(1.48,1.88),(1.53,1.91),(1.64,1.93),(1.69,1.89),(1.80,1.92),(1.85,1.88),(1.96,1.91),(2.01,1.93),
    (1.08,1.97),(1.13,2.00),(1.24,1.96),(1.29,1.99),(1.40,2.01),(1.45,1.97),(1.56,2.00),(1.61,1.96),(1.72,1.99),(1.77,2.01),(1.88,1.97),(1.93,2.00),
    (1.23,2.04),(1.29,2.08),(1.40,2.05),(1.45,2.03),(1.56,2.07),(1.61,2.04),(1.72,2.08),(1.77,2.05),
]

# Red cluster: centre fill (estimated)
red_centre = [
    (1.27,0.97),(1.33,1.00),(1.43,0.96),(1.49,0.99),(1.59,0.98),(1.65,1.00),(1.75,0.96),
    (1.09,1.05),(1.19,1.08),(1.25,1.04),(1.35,1.07),(1.41,1.05),(1.51,1.08),(1.57,1.04),(1.67,1.07),(1.73,1.05),(1.83,1.08),(1.89,1.04),
    (1.03,1.13),(1.09,1.16),(1.19,1.12),(1.25,1.15),(1.35,1.13),(1.41,1.16),(1.51,1.12),(1.57,1.15),(1.67,1.13),(1.73,1.16),(1.83,1.12),(1.89,1.15),(1.99,1.13),
    (0.95,1.23),(1.01,1.20),(1.11,1.24),(1.17,1.21),(1.27,1.22),(1.33,1.24),(1.43,1.20),(1.49,1.23),(1.59,1.21),(1.65,1.24),(1.75,1.20),(1.81,1.23),(1.91,1.21),(1.97,1.24),(2.07,1.20),
    (0.93,1.29),(1.03,1.32),(1.09,1.28),(1.19,1.31),(1.25,1.29),(1.35,1.32),(1.41,1.28),(1.51,1.31),(1.57,1.29),(1.67,1.32),(1.73,1.28),(1.83,1.31),(1.89,1.29),(1.99,1.32),(2.05,1.28),
    (0.95,1.39),(1.01,1.36),(1.11,1.40),(1.17,1.37),(1.27,1.39),(1.33,1.36),(1.43,1.40),(1.49,1.37),(1.59,1.39),(1.65,1.36),(1.75,1.40),(1.81,1.37),(1.91,1.39),(1.97,1.36),(2.07,1.40),
    (0.87,1.45),(0.93,1.48),(1.03,1.44),(1.09,1.47),(1.19,1.45),(1.25,1.48),(1.35,1.44),(1.41,1.47),(1.51,1.45),(1.57,1.48),(1.67,1.44),(1.73,1.47),(1.83,1.45),(1.89,1.48),(1.99,1.44),(2.05,1.47),(2.15,1.45),
    (0.85,1.55),(0.95,1.52),(1.01,1.56),(1.11,1.53),(1.17,1.55),(1.27,1.52),(1.33,1.56),(1.43,1.53),(1.49,1.55),(1.59,1.52),(1.65,1.56),(1.75,1.53),(1.81,1.55),(1.91,1.52),(1.97,1.56),(2.07,1.53),(2.13,1.55),
    (0.93,1.61),(1.03,1.64),(1.09,1.60),(1.19,1.63),(1.25,1.61),(1.35,1.64),(1.41,1.60),(1.51,1.63),(1.57,1.61),(1.67,1.64),(1.73,1.60),(1.83,1.63),(1.89,1.61),(1.99,1.64),(2.05,1.60),
    (0.95,1.71),(1.01,1.68),(1.11,1.72),(1.17,1.69),(1.27,1.71),(1.33,1.68),(1.43,1.72),(1.49,1.69),(1.59,1.71),(1.65,1.68),(1.75,1.72),(1.81,1.69),(1.91,1.71),(1.97,1.68),(2.07,1.72),
    (0.93,1.77),(1.03,1.80),(1.09,1.76),(1.19,1.79),(1.25,1.77),(1.35,1.80),(1.41,1.76),(1.51,1.79),(1.57,1.77),(1.67,1.80),(1.73,1.76),(1.83,1.79),(1.89,1.77),(1.99,1.80),(2.05,1.76),
    (1.03,1.87),(1.09,1.84),(1.19,1.88),(1.25,1.85),(1.35,1.87),(1.41,1.84),(1.51,1.88),(1.57,1.85),(1.67,1.87),(1.73,1.84),(1.83,1.88),(1.89,1.85),(1.99,1.87),
    (1.11,1.93),(1.17,1.96),(1.27,1.92),(1.33,1.95),(1.43,1.93),(1.49,1.96),(1.59,1.92),(1.65,1.95),(1.75,1.93),(1.81,1.96),(1.91,1.92),
    (1.25,2.03),(1.35,2.00),(1.41,2.04),(1.51,2.01),(1.57,2.03),(1.67,2.00),(1.73,2.04),
]

x_ticks = [-3, -2, -1, 0, 1, 2, 3]
y_ticks = [-3, -2, -1, 0, 1, 2, 3]

RED = "#ff6b6b"
BLUE = "#5ea7ff"

# ---------------- figure ----------------
plt.rcParams['font.family'] = ['Liberation Sans', 'DejaVu Sans']
fig = plt.figure(figsize=(18, 12), dpi=100)
ax = fig.add_axes([0.064, 0.075, 0.905, 0.861])

blue_all = blue_outer + blue_core + blue_fill + blue_centre
red_all = red_outer + red_core + red_fill + red_centre
bx = [p[0] for p in blue_all]
by = [p[1] for p in blue_all]
rx = [p[0] for p in red_all]
ry = [p[1] for p in red_all]

ax.scatter(rx, ry, s=78, color=RED, edgecolors='none', zorder=3)
ax.scatter(bx, by, s=78, color=BLUE, edgecolors='none', zorder=3)

ax.set_xlim(-3.55, 3.445)
ax.set_ylim(-3.36, 3.92)
ax.set_xticks(x_ticks)
ax.set_yticks(y_ticks)
ax.grid(True, color='#e6e6e6', linewidth=1.3, zorder=0)
ax.axvline(0, color='#e3e3e3', linewidth=3, zorder=1)
ax.axhline(0, color='#e3e3e3', linewidth=3, zorder=1)
ax.set_axisbelow(True)

for s in ['top', 'right']:
    ax.spines[s].set_visible(False)
for s in ['left', 'bottom']:
    ax.spines[s].set_color('#222222')
    ax.spines[s].set_linewidth(1.5)

ax.tick_params(axis='both', length=0, labelsize=13, colors='#222222')
ax.tick_params(axis='x', pad=10)
ax.tick_params(axis='y', pad=6)

fig.savefig("out.png", dpi=100, facecolor='white')
